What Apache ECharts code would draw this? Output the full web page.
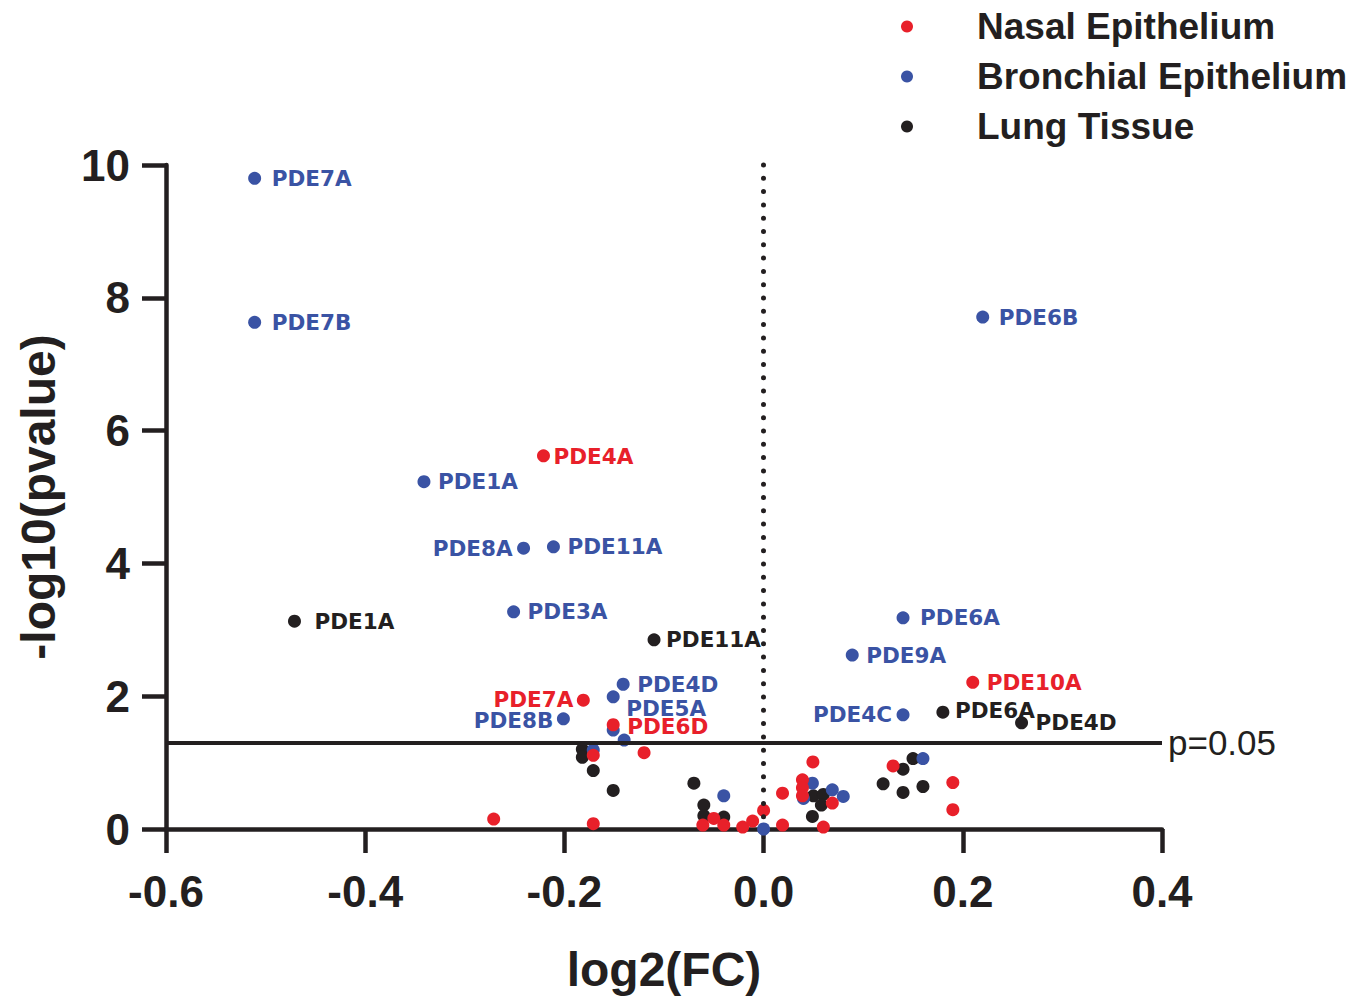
<!DOCTYPE html>
<html>
<head>
<meta charset="utf-8">
<script src="https://cdn.jsdelivr.net/npm/echarts@6/dist/echarts.min.js"></script>
<style>
  html, body { margin: 0; padding: 0; background: #fff; }
  #chart { width: 1364px; height: 1006px; }
</style>
</head>
<body>
<div id="chart"></div>
<script>
// [log2FC, -log10(p), label]
var nasalPoints = [
  [-0.221, 5.62, 'PDE4A'], [-0.181, 1.94, 'PDE7A'], [-0.151, 1.57, 'PDE6D'], [0.21, 2.21, 'PDE10A'],
  [-0.271, 0.15], [-0.171, 1.11], [-0.171, 0.08], [-0.12, 1.15], [-0.061, 0.06], [-0.05, 0.16],
  [-0.04, 0.06], [-0.021, 0.03], [-0.011, 0.12], [0, 0.28], [0.019, 0.54], [0.019, 0.06],
  [0.039, 0.74], [0.039, 0.62], [0.039, 0.5], [0.0495, 1.01], [0.069, 0.39], [0.06, 0.03],
  [0.13, 0.95], [0.19, 0.70], [0.19, 0.29]
];
var bronchialPoints = [
  [-0.511, 9.80, 'PDE7A'], [-0.511, 7.63, 'PDE7B'], [0.22, 7.71, 'PDE6B'], [-0.341, 5.23, 'PDE1A'],
  [-0.241, 4.23, 'PDE8A'], [-0.211, 4.25, 'PDE11A'], [-0.251, 3.27, 'PDE3A'], [0.14, 3.18, 'PDE6A'],
  [0.089, 2.62, 'PDE9A'], [-0.141, 2.18, 'PDE4D'], [-0.151, 1.99, 'PDE5A'], [-0.201, 1.66, 'PDE8B'],
  [0.14, 1.72, 'PDE4C'],
  [-0.171, 1.19], [-0.14, 1.34], [-0.151, 1.49], [-0.04, 0.50], [0, 0], [0.04, 0.46],
  [0.049, 0.69], [0.069, 0.59], [0.08, 0.49], [0.16, 1.06]
];
var lungPoints = [
  [-0.471, 3.13, 'PDE1A'], [-0.11, 2.85, 'PDE11A'], [0.18, 1.76, 'PDE6A'], [0.259, 1.60, 'PDE4D'],
  [-0.182, 1.2], [-0.182, 1.08], [-0.171, 0.88], [-0.151, 0.58], [-0.07, 0.69], [-0.06, 0.36],
  [-0.06, 0.2], [-0.04, 0.18], [0.05, 0.5], [0.06, 0.52], [0.058, 0.36], [0.049, 0.19],
  [0.12, 0.68], [0.14, 0.90], [0.15, 1.06], [0.14, 0.55], [0.16, 0.64]
];
var xTicks = [-0.6, 0.4, 0.2];   // min, max, step
var yTicks = [0, 10, 2];
var pThreshold = 1.3;

var red = '#e8202a', blue = '#3a53a4', ink = '#231f20';

// labels that sit on the left of their point, or need nudging
var leftLabels = { 'Bronchial Epithelium': ['PDE8A', 'PDE8B', 'PDE4C'], 'Nasal Epithelium': ['PDE7A'] };
var labelOffsets = {
  'Bronchial Epithelium/PDE5A': [-1, 12],
  'Bronchial Epithelium/PDE7A': [3, 0],
  'Bronchial Epithelium/PDE7B': [3, 0],
  'Bronchial Epithelium/PDE6B': [2, 0],
  'Bronchial Epithelium/PDE6A': [3, 0],
  'Bronchial Epithelium/PDE8A': [3, 0],
  'Bronchial Epithelium/PDE8B': [4, 2],
  'Bronchial Epithelium/PDE4C': [3, 0],
  'Nasal Epithelium/PDE7A': [4, -1],
  'Nasal Epithelium/PDE6D': [0, 2],
  'Nasal Epithelium/PDE4A': [-4, 1],
  'Lung Tissue/PDE1A': [6, 0],
  'Lung Tissue/PDE11A': [-2, 0],
  'Lung Tissue/PDE6A': [-2, -2]
};

function makeData(points, series) {
  return points.map(function(p) {
    var item = { value: [p[0], p[1]] };
    if (p[2]) {
      var left = (leftLabels[series] || []).indexOf(p[2]) >= 0;
      item.name = p[2];
      item.label = {
        show: true,
        position: left ? 'left' : 'right',
        offset: labelOffsets[series + '/' + p[2]] || [0, 0]
      };
    }
    return item;
  });
}

function scatter(name, points, color, z) {
  return {
    name: name,
    type: 'scatter',
    symbolSize: 13,
    z: z,
    itemStyle: { color: color, opacity: 1 },
    label: {
      show: false,
      distance: 7.5,
      color: color,
      fontFamily: 'DejaVu Sans',
      fontWeight: 'bold',
      fontSize: 21.5,
      lineHeight: 20,
      formatter: function(p) { return p.name; }
    },
    data: makeData(points, name)
  };
}

var chart = echarts.init(document.getElementById('chart'), null, { renderer: 'svg' });
var lung = scatter('Lung Tissue', lungPoints, ink, 2);
lung.markLine = {
  silent: true,
  symbol: 'none',
  animation: false,
  data: [
    [{ coord: [xTicks[0], pThreshold], lineStyle: { color: ink, width: 4, type: 'solid' },
       label: { show: true, position: 'end', formatter: 'p=0.05', color: ink, fontFamily: 'Liberation Sans', fontSize: 35, distance: 6 } },
     { coord: [xTicks[1], pThreshold] }],
    [{ coord: [0, yTicks[1]], lineStyle: { color: ink, width: 5, type: [0, 13.3], cap: 'round' }, label: { show: false } },
     { coord: [0, yTicks[0]] }]
  ]
};

chart.setOption({
  animation: false,
  textStyle: { fontFamily: 'Liberation Sans' },
  legend: {
    orient: 'vertical',
    left: 896,
    top: 3,
    itemWidth: 12,
    itemHeight: 12,
    itemGap: 13,
    icon: 'circle',
    data: ['Nasal Epithelium', 'Bronchial Epithelium', 'Lung Tissue'],
    textStyle: { color: ink, fontSize: 37, fontWeight: 'bold', fontFamily: 'Liberation Sans', padding: [0, 0, 0, 59] }
  },
  grid: { left: 166, right: 202, top: 165, bottom: 177 },
  xAxis: {
    type: 'value',
    min: xTicks[0], max: xTicks[1], interval: xTicks[2],
    name: 'log2(FC)',
    nameLocation: 'middle',
    nameGap: 116,
    nameTextStyle: { color: ink, fontSize: 48, fontWeight: 'bold' },
    axisLine: { onZero: false, lineStyle: { color: ink, width: 4.5 } },
    axisTick: { show: true, length: 24, lineStyle: { color: ink, width: 4.5 } },
    axisLabel: { color: ink, fontSize: 44, fontWeight: 'bold', margin: 40,
                 formatter: function(v) { return v.toFixed(1); } },
    splitLine: { show: false }
  },
  yAxis: {
    type: 'value',
    min: yTicks[0], max: yTicks[1], interval: yTicks[2],
    name: '-log10(pvalue)',
    nameLocation: 'middle',
    nameGap: 104,
    nameTextStyle: { color: ink, fontSize: 48, fontWeight: 'bold' },
    axisLine: { show: true, onZero: false, lineStyle: { color: ink, width: 4.5 } },
    axisTick: { show: true, length: 24, lineStyle: { color: ink, width: 4.5 } },
    axisLabel: { color: ink, fontSize: 44, fontWeight: 'bold', margin: 36 },
    splitLine: { show: false }
  },
  series: [
    lung,
    scatter('Bronchial Epithelium', bronchialPoints, blue, 3),
    scatter('Nasal Epithelium', nasalPoints, red, 4)
  ]
});
window.addEventListener('resize', function() { chart.resize(); });
</script>
</body>
</html>
